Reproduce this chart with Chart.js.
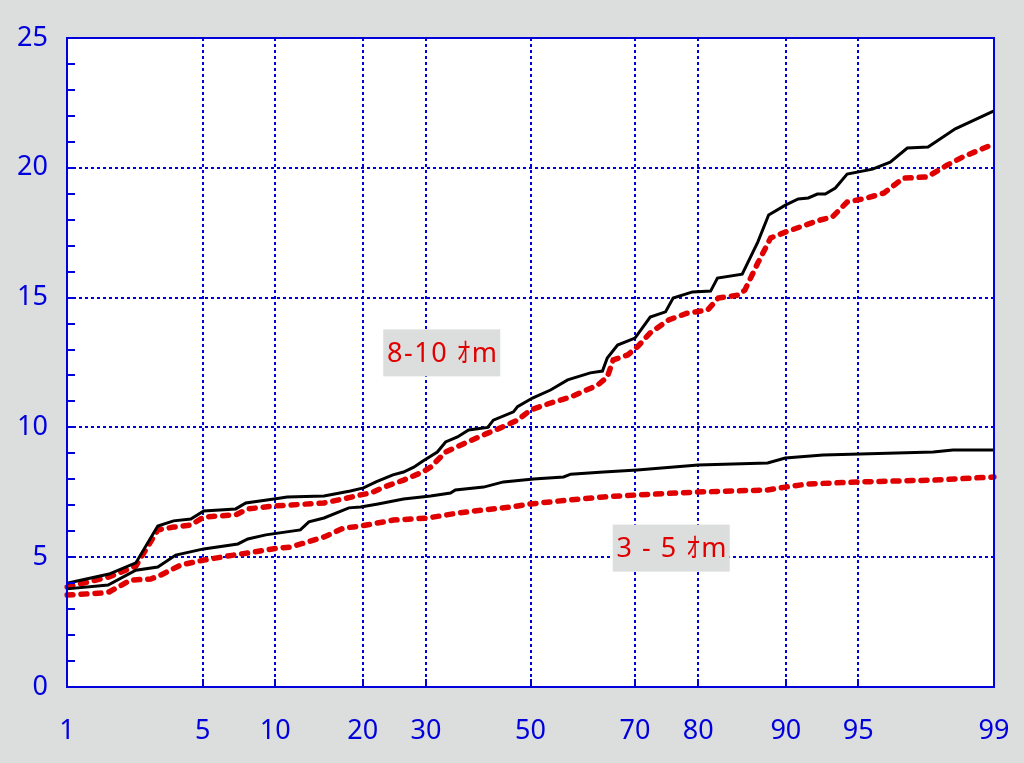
<!DOCTYPE html>
<html lang="ja">
<head>
<meta charset="UTF-8">
<title>累積確率分布</title>
<style>
  body { margin: 0; background: #dcdddd; }
  canvas { display: block; }
</style>
</head>
<body>
<canvas id="probChart" width="1024" height="763"></canvas>
<script src="https://cdn.jsdelivr.net/npm/chart.js"></script>
<script>
// probability axis (%) and value axis ticks
const xTicks = [1, 5, 10, 20, 30, 50, 70, 80, 90, 95, 99];
const yTicks = [0, 5, 10, 15, 20, 25];

// 8-10 ｵm, black solid
const bigBlackP = [1, 1.72, 2.38, 3.07, 3.66, 4.41, 5.05, 6.95, 7.65, 9.9, 11.1, 15.0, 18.3, 20.1, 21.9, 24.5, 26.2, 27.9, 29.4, 32.0, 33.5, 35.7, 37.8, 41.5, 42.6, 46.6, 47.4, 50.4, 54.0, 57.4, 61.8, 64.1, 65.0, 66.9, 70.0, 72.6, 75.1, 76.3, 79.2, 81.7, 82.6, 85.6, 87.3, 88.4, 90.0, 91.05, 91.84, 92.5, 93.05, 93.7, 94.4, 95.7, 96.45, 97.07, 97.7, 98.35, 99];
const bigBlackV = [4.0, 4.35, 4.78, 6.2, 6.4, 6.47, 6.78, 6.86, 7.09, 7.24, 7.32, 7.36, 7.55, 7.67, 7.9, 8.17, 8.28, 8.47, 8.7, 9.05, 9.44, 9.63, 9.9, 10.0, 10.28, 10.6, 10.8, 11.13, 11.44, 11.83, 12.1, 12.17, 12.67, 13.17, 13.44, 14.25, 14.45, 14.98, 15.22, 15.25, 15.75, 15.9, 17.14, 18.18, 18.57, 18.8, 18.84, 18.99, 18.99, 19.22, 19.76, 19.95, 20.22, 20.76, 20.8, 21.5, 22.19];

// 8-10 ｵm, red dashed
const bigRedP = [1, 1.72, 2.38, 3.07, 3.66, 4.41, 5.05, 6.95, 7.8, 9.9, 15.0, 17.9, 19.7, 21.1, 23.1, 26.2, 29.4, 30.8, 33.5, 37.6, 41.5, 44.0, 47.4, 50.0, 54.0, 58.0, 63.2, 65.0, 66.1, 68.7, 70.4, 72.6, 75.6, 78.4, 81.3, 82.7, 85.2, 85.9, 87.3, 88.6, 90.0, 92.7, 93.5, 94.4, 95.45, 96.2, 96.93, 97.68, 98.17, 98.5, 99];
const bigRedV = [3.85, 4.24, 4.66, 6.05, 6.16, 6.24, 6.55, 6.63, 6.86, 6.97, 7.09, 7.28, 7.4, 7.47, 7.7, 7.97, 8.28, 8.47, 9.05, 9.44, 9.78, 9.98, 10.28, 10.67, 10.94, 11.17, 11.63, 11.94, 12.6, 12.79, 13.1, 13.64, 14.14, 14.4, 14.52, 14.98, 15.1, 15.29, 16.33, 17.3, 17.53, 17.99, 18.1, 18.68, 18.84, 19.03, 19.6, 19.65, 20.1, 20.42, 20.92];

// 3 - 5 ｵm, black solid
const smallBlackP = [1, 1.7, 2.38, 3.07, 3.75, 5.05, 7.1, 7.8, 9.2, 12.4, 13.3, 15.0, 18.1, 19.7, 22.2, 26.2, 30.8, 34.4, 35.3, 40.7, 44.6, 50.6, 56.6, 58.0, 64.3, 70.4, 80.0, 88.3, 89.95, 92.9, 95.1, 97.84, 98.3, 99];
const smallBlackV = [3.78, 3.93, 4.5, 4.62, 5.08, 5.32, 5.51, 5.7, 5.86, 6.05, 6.36, 6.51, 6.9, 6.93, 7.05, 7.24, 7.36, 7.47, 7.59, 7.7, 7.9, 8.01, 8.09, 8.2, 8.28, 8.36, 8.55, 8.63, 8.82, 8.94, 8.98, 9.05, 9.13, 9.13];

// 3 - 5 ｵm, red dashed
const smallRedP = [1, 1.55, 1.72, 2.24, 2.83, 3.17, 3.96, 5.05, 6.8, 7.8, 10.2, 11.4, 13.2, 15.0, 17.4, 19.7, 24.6, 30.3, 35.7, 40.7, 46.0, 50.0, 57.4, 64.3, 70.4, 79.9, 88.3, 89.95, 91.76, 95.1, 97.84, 99];
const smallRedV = [3.54, 3.62, 3.66, 4.12, 4.16, 4.31, 4.7, 4.89, 5.08, 5.16, 5.35, 5.39, 5.59, 5.78, 6.12, 6.2, 6.43, 6.51, 6.7, 6.82, 6.93, 7.05, 7.2, 7.32, 7.4, 7.51, 7.59, 7.7, 7.82, 7.9, 7.97, 8.09];

// text labels: [text, probability %, value]
const labelBig = ['8-10 ｵm', 32.8, 12.87];
const labelSmall = ['3 - 5 ｵm', 76.0, 5.35];

const BLUE = '#0000dd';
const RED = '#e00000';

// inverse normal CDF (Acklam)
function probit(p) {
    const a = [-39.69683028665376, 220.9460984245205, -275.9285104469687, 138.3577518672690, -30.66479806614716, 2.506628277459239];
    const b = [-54.47609879822406, 161.5858368580409, -155.6989798598866, 66.80131188771972, -13.28068155288572];
    const c = [-0.007784894002430293, -0.3223964580411365, -2.400758277161838, -2.549732539343734, 4.374664141464968, 2.938163982698783];
    const d = [0.007784695709041462, 0.3224671290700398, 2.445134137142996, 3.754408661907416];
    const pl = 0.02425;
    let q, r;
    if (p < pl) {
        q = Math.sqrt(-2 * Math.log(p));
        return (((((c[0]*q+c[1])*q+c[2])*q+c[3])*q+c[4])*q+c[5]) / ((((d[0]*q+d[1])*q+d[2])*q+d[3])*q+1);
    }
    if (p > 1 - pl) {
        q = Math.sqrt(-2 * Math.log(1 - p));
        return -(((((c[0]*q+c[1])*q+c[2])*q+c[3])*q+c[4])*q+c[5]) / ((((d[0]*q+d[1])*q+d[2])*q+d[3])*q+1);
    }
    q = p - 0.5;
    r = q * q;
    return (((((a[0]*r+a[1])*r+a[2])*r+a[3])*r+a[4])*r+a[5])*q / (((((b[0]*r+b[1])*r+b[2])*r+b[3])*r+b[4])*r+1);
}

// normal probability scale
class ProbitScale extends Chart.LinearScale {
    determineDataLimits() {
        this.min = xTicks[0];
        this.max = xTicks[xTicks.length - 1];
    }
    buildTicks() {
        return xTicks.map(v => ({ value: v }));
    }
    configure() {
        super.configure();
        this._zMin = probit(this.min / 100);
        this._zMax = probit(this.max / 100);
    }
    getPixelForValue(v) {
        const z = probit(v / 100);
        return this.getPixelForDecimal((z - this._zMin) / (this._zMax - this._zMin));
    }
    getValueForPixel(px) {
        const t = this.getDecimalForPixel(px);
        const z = this._zMin + t * (this._zMax - this._zMin);
        // simple bisection back to probability
        let lo = 0.0001, hi = 99.9999;
        for (let i = 0; i < 50; i++) {
            const mid = (lo + hi) / 2;
            if (probit(mid / 100) < z) lo = mid; else hi = mid;
        }
        return (lo + hi) / 2;
    }
}
ProbitScale.id = 'probit';
ProbitScale.defaults = { ticks: { callback: v => String(v) } };
Chart.register(ProbitScale);

function pts(ps, vs) {
    return ps.map((p, i) => ({ x: p, y: vs[i] }));
}

const frame = {
    id: 'frame',
    beforeDraw(chart) {
        const { ctx, chartArea: a } = chart;
        ctx.save();
        ctx.fillStyle = '#dcdddd';
        ctx.fillRect(0, 0, chart.width, chart.height);
        ctx.fillStyle = '#ffffff';
        ctx.fillRect(a.left, a.top, a.right - a.left, a.bottom - a.top);
        ctx.restore();
    },
    afterDatasetsDraw(chart) {
        const { ctx, chartArea: a, scales } = chart;
        const xs = scales.x, ys = scales.y;
        ctx.save();
        ctx.strokeStyle = BLUE;
        ctx.lineWidth = 2;
        ctx.beginPath();
        // y ticks: minor every 1, major every 5
        for (let v = yTicks[0]; v <= yTicks[yTicks.length - 1]; v++) {
            const y = Math.round(ys.getPixelForValue(v));
            ctx.moveTo(a.left, y);
            ctx.lineTo(a.left + 8, y);
        }
        // x major ticks on bottom
        xTicks.forEach(p => {
            const x = Math.round(xs.getPixelForValue(p));
            ctx.moveTo(x, a.bottom);
            ctx.lineTo(x, a.bottom - 8);
        });
        ctx.stroke();
        ctx.strokeRect(a.left, a.top, a.right - a.left, a.bottom - a.top);

        // labels on grey boxes
        [labelBig, labelSmall].forEach(([txt, p, v]) => {
            const cx = xs.getPixelForValue(p);
            const cy = ys.getPixelForValue(v);
            const w = 117, h = 47;
            ctx.fillStyle = '#dcdddd';
            ctx.fillRect(cx - w / 2, cy - h / 2, w, h);
            ctx.font = '27px "Noto Sans", "Noto Sans CJK JP", sans-serif';
            ctx.letterSpacing = '1.5px';
            ctx.fillStyle = RED;
            ctx.textAlign = 'center';
            ctx.textBaseline = 'middle';
            ctx.fillText(txt, cx + 1, cy + 1);
        });
        ctx.restore();
    }
};

const ctx = document.getElementById('probChart').getContext('2d');
const probChart = new Chart(ctx, {
    type: 'line',
    data: {
        datasets: [
            {
                label: '8-10 ｵm',
                data: pts(bigBlackP, bigBlackV),
                borderColor: '#000000',
                borderWidth: 3,
                pointRadius: 0,
                tension: 0
            },
            {
                label: '3 - 5 ｵm',
                data: pts(smallBlackP, smallBlackV),
                borderColor: '#000000',
                borderWidth: 3,
                pointRadius: 0,
                tension: 0
            },
            {
                label: '8-10 ｵm (2)',
                data: pts(bigRedP, bigRedV),
                borderColor: RED,
                borderWidth: 5.5,
                borderDash: [6, 8],
                borderCapStyle: 'round',
                pointRadius: 0,
                tension: 0
            },
            {
                label: '3 - 5 ｵm (2)',
                data: pts(smallRedP, smallRedV),
                borderColor: RED,
                borderWidth: 5.5,
                borderDash: [6, 8],
                borderCapStyle: 'round',
                pointRadius: 0,
                tension: 0
            }
        ]
    },
    options: {
        responsive: false,
        animation: false,
        devicePixelRatio: 1,
        layout: { padding: { top: 38, right: 30, left: 0, bottom: 0 } },
        plugins: {
            legend: { display: false },
            tooltip: { enabled: false }
        },
        scales: {
            x: {
                type: 'probit',
                afterFit: s => { s.height = 76; s.paddingLeft = 0; s.paddingRight = 0; },
                grid: { color: BLUE, lineWidth: 2, drawTicks: false },
                border: { display: false, dash: [3, 3] },
                ticks: {
                    color: BLUE,
                    font: { family: '"Noto Sans", sans-serif', size: 27 },
                    padding: 28,
                    autoSkip: false,
                    maxRotation: 0,
                    callback: v => String(v)
                }
            },
            y: {
                type: 'linear',
                min: yTicks[0],
                max: yTicks[yTicks.length - 1],
                afterFit: s => { s.width = 67; s.paddingTop = 0; s.paddingBottom = 0; },
                afterBuildTicks: s => { s.ticks = yTicks.map(v => ({ value: v })); },
                grid: { color: BLUE, lineWidth: 2, drawTicks: false },
                border: { display: false, dash: [3, 3] },
                ticks: {
                    color: BLUE,
                    font: { family: '"Noto Sans", sans-serif', size: 27 },
                    padding: 19
                }
            }
        }
    },
    plugins: [frame]
});
</script>
</body>
</html>
